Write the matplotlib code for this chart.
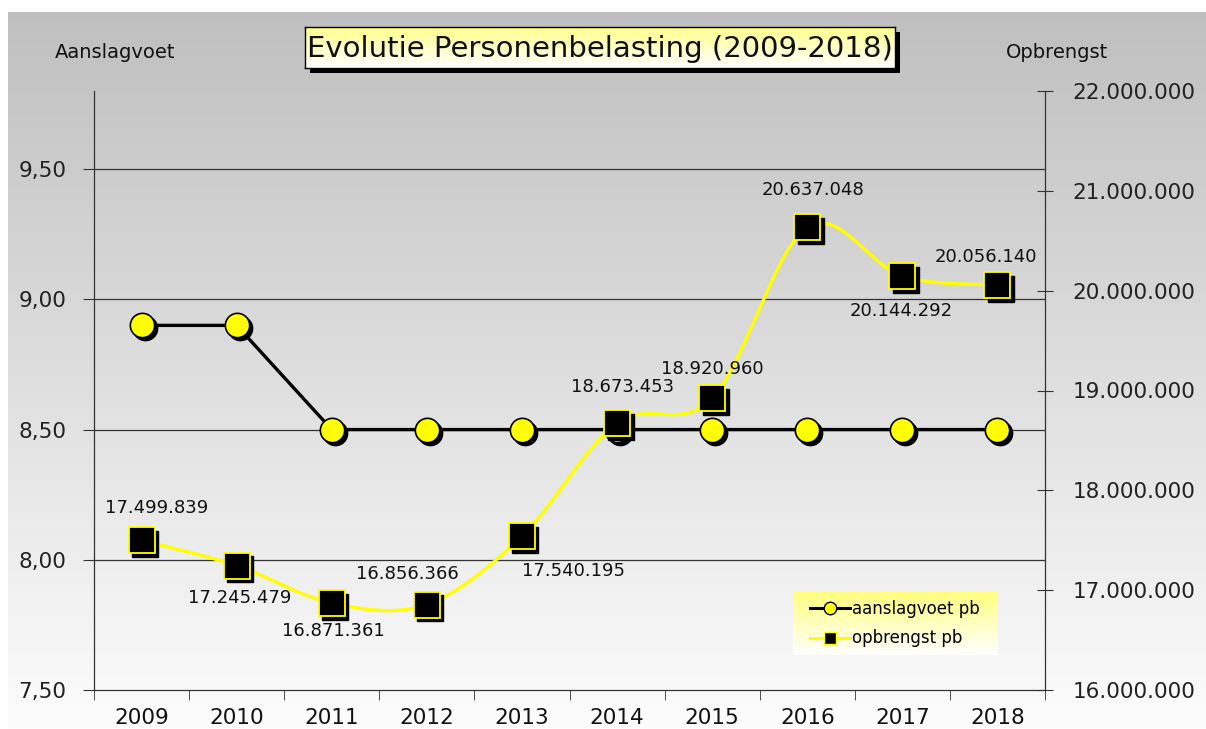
import matplotlib.pyplot as plt
import matplotlib.transforms as mtransforms
from matplotlib.lines import Line2D
from matplotlib.patches import Rectangle
import numpy as np

# data
years = ['2009', '2010', '2011', '2012', '2013', '2014', '2015', '2016', '2017', '2018']
aanslagvoet = [8.90, 8.90, 8.50, 8.50, 8.50, 8.50, 8.50, 8.50, 8.50, 8.50]
opbrengst = [17499839, 17245479, 16871361, 16856366, 17540195,
             18673453, 18920960, 20637048, 20144292, 20056140]

# label offsets (points) for opbrengst labels
label_offsets = [(11, 23), (2, -23), (1, -20), (-14, 22), (37, -25),
                 (4, 26), (0, 21), (4, 27), (-1, -25), (-8, 20)]

W, H = 1206, 729
fig = plt.figure(figsize=(W / 100, H / 100), dpi=100)
fig.patch.set_facecolor('white')

# grey -> white gradient background
bg = fig.add_axes([8 / W, 0, 1198 / W, 717 / H], zorder=-10)
grad = np.linspace(0.75, 0.99, 256).reshape(-1, 1)
bg.imshow(np.dstack([grad, grad, grad]), aspect='auto', extent=[0, 1, 0, 1])
bg.axis('off')

ax = fig.add_axes([94 / W, 39 / H, 951 / W, 599 / H])
ax.patch.set_alpha(0)
ax2 = ax.twinx()
ax2.patch.set_alpha(0)

x = np.arange(len(years))


def smooth(xs, ys, n=30):
    # Catmull-Rom style smoothing like a spreadsheet "smoothed line"
    px = np.concatenate([[xs[0]], xs, [xs[-1]]])
    py = np.concatenate([[ys[0]], ys, [ys[-1]]])
    outx, outy = [], []
    t = np.linspace(0, 1, n)
    for i in range(1, len(px) - 2):
        p0 = np.array([px[i], py[i]])
        p3 = np.array([px[i + 1], py[i + 1]])
        p1 = p0 + (p3 - np.array([px[i - 1], py[i - 1]])) / 6
        p2 = p3 - (np.array([px[i + 2], py[i + 2]]) - p0) / 6
        b = ((1 - t) ** 3)[:, None] * p0 + (3 * (1 - t) ** 2 * t)[:, None] * p1 \
            + (3 * (1 - t) * t ** 2)[:, None] * p2 + (t ** 3)[:, None] * p3
        outx.extend(b[:, 0])
        outy.extend(b[:, 1])
    return np.array(outx), np.array(outy)


shadow1 = mtransforms.offset_copy(ax.transData, fig=fig, x=3, y=-3, units='dots')
shadow2 = mtransforms.offset_copy(ax2.transData, fig=fig, x=3.5, y=-3.5, units='dots')

# aanslagvoet (left axis)
ax.plot(x, aanslagvoet, color='black', lw=2.4, zorder=3)
ax.plot(x, aanslagvoet, 'o', ms=17.5, color='black', mec='black', transform=shadow1, zorder=4)
ax.plot(x, aanslagvoet, 'o', ms=17.5, color='#ffff00', mec='black', mew=1.2, zorder=5)

# opbrengst (right axis)
sx, sy = smooth(x.astype(float), np.array(opbrengst, dtype=float))
ax2.plot(sx, sy, color='#ffff00', lw=2.4, zorder=3)
ax2.plot(x, opbrengst, 's', ms=18.5, color='black', mec='black', transform=shadow2, zorder=4)
ax2.plot(x, opbrengst, 's', ms=18.5, color='black', mec='#ffff00', mew=1.3, zorder=5)

for xi, v, (dx, dy) in zip(x, opbrengst, label_offsets):
    ax2.annotate(f'{v:,}'.replace(',', '.'), (xi, v), xytext=(dx, dy),
                 textcoords='offset points', ha='center', va='center',
                 fontsize=13, color='#111111', zorder=6)

# axes
ax.set_xlim(-0.5, len(years) - 0.5)
ax.set_ylim(7.5, 9.8)
ax2.set_ylim(16000000, 22000000)

left_ticks = [7.5, 8.0, 8.5, 9.0, 9.5]
ax.set_yticks(left_ticks)
ax.set_yticklabels([f'{v:.2f}'.replace('.', ',') for v in left_ticks])
right_ticks = np.arange(16000000, 22000001, 1000000)
ax2.set_yticks(right_ticks)
ax2.set_yticklabels([f'{v:,}'.replace(',', '.') for v in right_ticks])

ax.set_xticks(x)
ax.set_xticklabels(years)
ax.set_xticks(np.arange(-0.5, len(years), 1), minor=True)
ax.tick_params(axis='x', which='major', length=0, pad=13, labelsize=15.5, labelcolor='#111111')
ax.tick_params(axis='x', which='minor', length=7, direction='out', color='#333333')
ax.tick_params(axis='y', length=8, direction='out', pad=12, labelsize=15.5,
               labelcolor='#222222', color='#333333')
ax2.tick_params(axis='y', length=12, direction='inout', pad=14, labelsize=15.5,
                labelcolor='#222222', color='#333333')

for yv in [8.0, 8.5, 9.0, 9.5]:
    ax.axhline(yv, color='#333333', lw=0.9, zorder=1)

for a in (ax, ax2):
    a.spines['top'].set_visible(False)
    for s in ('left', 'right', 'bottom'):
        a.spines[s].set_color('#333333')
        a.spines[s].set_linewidth(0.9)
ax.spines['right'].set_visible(False)
ax2.spines['left'].set_visible(False)
ax2.spines['bottom'].set_visible(False)

fig.text(115 / W, 1 - 52 / H, 'Aanslagvoet', ha='center', va='center', fontsize=14, color='#111111')
fig.text(1057 / W, 1 - 52 / H, 'Opbrengst', ha='center', va='center', fontsize=14, color='#111111')

# title box with shadow and pale yellow gradient
tx0, ty0, tw, th = 305, 27, 590, 41
fig.patches.append(Rectangle(((tx0 + 5) / W, 1 - (ty0 + th + 5) / H), tw / W, th / H,
                             transform=fig.transFigure, facecolor='black', edgecolor='none', zorder=5))
tax = fig.add_axes([tx0 / W, 1 - (ty0 + th) / H, tw / W, th / H], zorder=6)
tg = np.linspace(0, 1, 64).reshape(-1, 1)
timg = np.dstack([np.ones_like(tg), np.ones_like(tg), 0.55 + 0.45 * tg])
tax.imshow(timg, aspect='auto', extent=[0, 1, 0, 1])
tax.set_xticks([])
tax.set_yticks([])
for s in tax.spines.values():
    s.set_color('black')
    s.set_linewidth(1)
tax.text(0.5, 0.47, 'Evolutie Personenbelasting (2009-2018)', ha='center', va='center',
         fontsize=21, color='#111111', transform=tax.transAxes)

# legend box with yellow gradient
lax = fig.add_axes([793 / W, 1 - 655 / H, 204 / W, 63 / H], zorder=7)
lg = np.linspace(0, 1, 64).reshape(-1, 1)
limg = np.dstack([np.ones_like(lg), np.ones_like(lg), 0.5 + 0.5 * lg])
lax.imshow(limg, aspect='auto', extent=[0, 1, 0, 1])
lax.axis('off')
handles = [
    Line2D([], [], color='black', lw=2.2, marker='o', ms=9, mfc='#ffff00', mec='black', label='aanslagvoet pb'),
    Line2D([], [], color='#ffff00', lw=2.2, marker='s', ms=9, mfc='black', mec='#ffff00', label='opbrengst pb'),
]
lax.legend(handles=handles, loc='center', frameon=False, fontsize=12, handlelength=2.4,
           handletextpad=0.1, labelspacing=0.7, borderpad=0.2)

fig.savefig('out.png', dpi=100)
